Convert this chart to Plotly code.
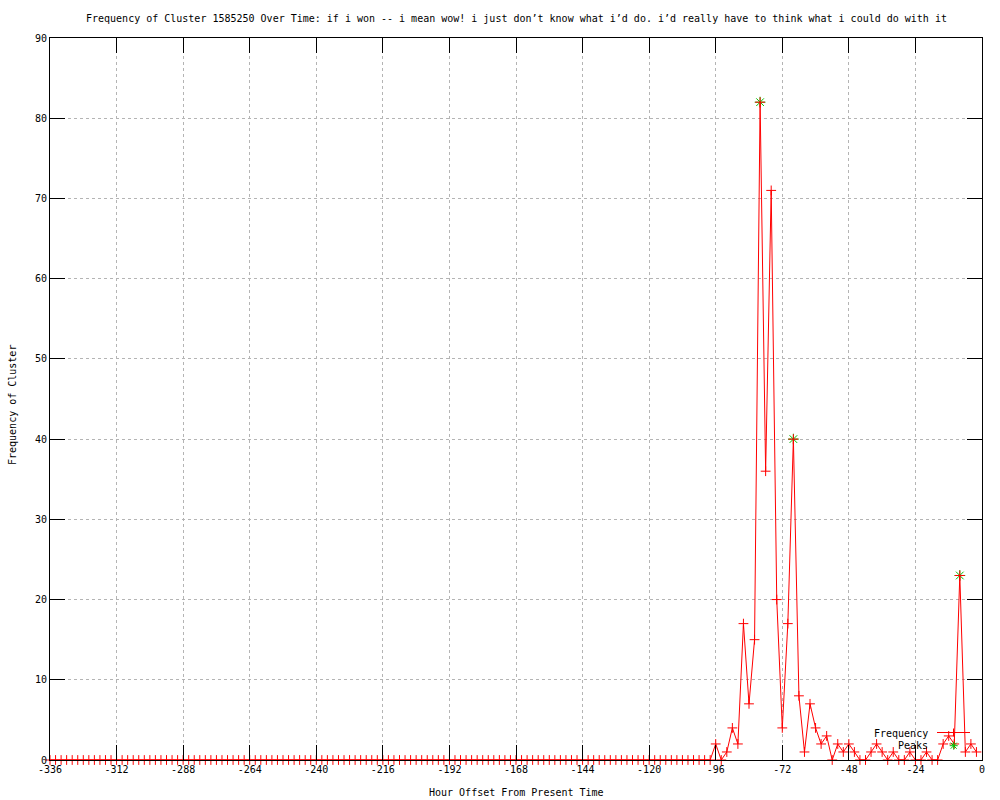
import plotly.graph_objects as go

# Hours (x positions of samples, every 2 hours)
hours = list(range(-336, 0, 2))

# Frequency values
freq_early = [
    0, 0, 0, 0, 0, 0, 0, 0, 0, 0, 0, 0, 0, 0, 0, 0, 0, 0, 0, 0,
    0, 0, 0, 0, 0, 0, 0, 0, 0, 0, 0, 0, 0, 0, 0, 0, 0, 0, 0, 0,
    0, 0, 0, 0, 0, 0, 0, 0, 0, 0, 0, 0, 0, 0, 0, 0, 0, 0, 0, 0,
    0, 0, 0, 0, 0, 0, 0, 0, 0, 0, 0, 0, 0, 0, 0, 0, 0, 0, 0, 0,
    0, 0, 0, 0, 0, 0, 0, 0, 0, 0, 0, 0, 0, 0, 0, 0, 0, 0, 0, 0,
    0, 0, 0, 0, 0, 0, 0, 0, 0, 0, 0, 0, 0, 0, 0, 0, 0, 0, 0, 0,
]
freq_late = [
    2, 0, 1, 4, 2, 17, 7, 15, 82, 36, 71, 20, 4, 17, 40, 8,
    1, 7, 4, 2, 3, 0, 2, 1, 2, 1, 0, 0, 1, 2, 1, 0,
    1, 0, 0, 1, 0, 0, 1, 0, 0, 2, 3, 2, 23, 1, 2, 1,
]
frequency = freq_early + freq_late

peak_hours = [-80, -68, -8]
peak_values = [82, 40, 23]

x_ticks = list(range(-336, 1, 24))
x_ticktext = [str(v) for v in x_ticks]
y_ticks = list(range(0, 91, 10))
y_ticktext = [str(v) for v in y_ticks]

title_text = ("Frequency of Cluster 1585250 Over Time: if i won -- i mean wow! "
              "i just don\u2019t know what i\u2019d do. i\u2019d really have to think what i could do with it")

FONT = "DejaVu Sans Mono"
RED = "#ff0000"
GREEN = "#00c000"

fig = go.Figure()

fig.add_trace(go.Scatter(
    x=peak_hours, y=peak_values, mode="markers", name="Peaks",
    marker=dict(symbol="asterisk-open", size=9, color=GREEN,
                line=dict(color=GREEN, width=1)),
    showlegend=False, cliponaxis=False,
))

fig.add_trace(go.Scatter(
    x=hours, y=frequency, mode="lines+markers", name="Frequency",
    line=dict(color=RED, width=1),
    marker=dict(symbol="cross-thin-open", size=7, color=RED,
                line=dict(color=RED, width=1)),
    showlegend=False, cliponaxis=False,
))

W, H = 1000, 800
L, R, T, B = 50, 18, 38, 40
pw, ph = W - L - R, H - T - B

def px(xp):
    return (xp - L) / pw

def py(yp):
    return (H - B - yp) / ph

shapes = []
# legend sample: Frequency
ly1 = py(732.5)
shapes.append(dict(type="line", xref="paper", yref="paper",
                   x0=px(937), x1=px(970), y0=ly1, y1=ly1,
                   line=dict(color=RED, width=1)))
shapes.append(dict(type="line", xref="paper", yref="paper",
                   x0=px(953.5), x1=px(953.5), y0=py(728.5), y1=py(736.5),
                   line=dict(color=RED, width=1)))
# legend sample: Peaks (asterisk)
cx, cy = 953.7, 745.7
for dx, dy in [(4, 0), (0, 4), (3, 3), (3, -3)]:
    shapes.append(dict(type="line", xref="paper", yref="paper",
                       x0=px(cx - dx), x1=px(cx + dx),
                       y0=py(cy - dy), y1=py(cy + dy),
                       line=dict(color=GREEN, width=1)))

annotations = [
    dict(text=title_text, xref="paper", yref="paper", x=0.5, y=py(18),
         xanchor="center", yanchor="middle", showarrow=False,
         font=dict(family=FONT, size=10, color="black")),
    dict(text="Hour Offset From Present Time", xref="paper", yref="paper",
         x=0.5, y=py(793), xanchor="center", yanchor="middle", showarrow=False,
         font=dict(family=FONT, size=10, color="black")),
    dict(text="Frequency of Cluster", xref="paper", yref="paper",
         x=px(13), y=py(405), xanchor="center", yanchor="middle", showarrow=False,
         textangle=-90, font=dict(family=FONT, size=10, color="black")),
    dict(text="Frequency", xref="paper", yref="paper", x=px(930), y=py(733),
         xanchor="right", yanchor="middle", showarrow=False,
         font=dict(family=FONT, size=10, color="black")),
    dict(text="Peaks", xref="paper", yref="paper", x=px(930), y=py(745),
         xanchor="right", yanchor="middle", showarrow=False,
         font=dict(family=FONT, size=10, color="black")),
]

axis_common = dict(
    showline=True, linecolor="black", linewidth=1, mirror="ticks",
    ticks="inside", ticklen=15, tickcolor="black", tickwidth=1,
    showgrid=True, gridcolor="#b4b4b4", griddash="dot", gridwidth=1,
    zeroline=False, tickfont=dict(family=FONT, size=10, color="black"),
)

fig.update_layout(
    width=W, height=H,
    margin=dict(l=L, r=R, t=T, b=B, autoexpand=False),
    paper_bgcolor="white", plot_bgcolor="white",
    xaxis=dict(range=[-336, 0], tickvals=x_ticks, ticktext=x_ticktext, **axis_common),
    yaxis=dict(range=[0, 90], tickvals=y_ticks, ticktext=y_ticktext, **axis_common),
    shapes=shapes, annotations=annotations, showlegend=False,
)

fig.write_html(
    "out.html",
    config={"displayModeBar": False},
    post_script="document.body.style.margin='0';document.body.style.overflow='hidden';",
)
